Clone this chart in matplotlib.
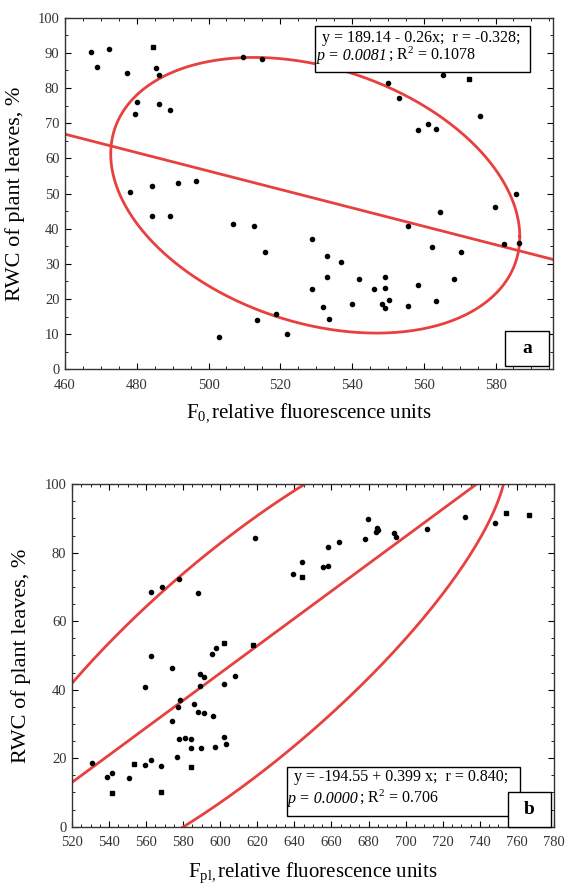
import numpy as np
import matplotlib
matplotlib.use("Agg")
import matplotlib.pyplot as plt
from matplotlib.patches import Rectangle
from matplotlib.ticker import MultipleLocator

plt.rcParams["font.family"] = ["Liberation Serif", "DejaVu Serif"]
plt.rcParams["mathtext.fontset"] = "custom"
plt.rcParams["mathtext.rm"] = "Liberation Serif"
plt.rcParams["mathtext.it"] = "Liberation Serif:italic"
plt.rcParams["mathtext.bf"] = "Liberation Serif:bold"

# panel a: F0 vs RWC
f0_x = [467.2, 469.0, 472.2, 477.2, 485.3, 486.3, 480.2, 479.4, 486.3, 489.3,
        478.1, 484.3, 491.5, 496.5, 484.3, 489.3, 506.8, 512.7, 515.8, 509.5,
        515.0, 502.8, 513.6, 518.9, 521.8, 528.9, 528.9, 531.9, 532.9, 532.9,
        533.7, 536.9, 540.1, 542.0, 546.0, 548.3, 549.2, 549.3, 549.3, 550.2,
        550.1, 553.2, 555.5, 555.5, 558.3, 558.3, 561.3, 562.2, 563.5, 563.5,
        564.4, 565.3, 568.5, 570.3, 575.7, 579.8, 582.4, 585.7, 586.5]
f0_y = [90.3, 86.1, 91.0, 84.4, 85.7, 83.7, 75.9, 72.5, 75.5, 73.8,
        50.5, 52.2, 52.9, 53.6, 43.7, 43.7, 41.4, 40.8, 33.3, 88.8,
        88.2, 9.3, 14.0, 15.6, 10.0, 37.0, 22.8, 17.8, 32.3, 26.2,
        14.3, 30.6, 18.5, 25.6, 22.8, 18.5, 17.5, 26.2, 23.2, 19.8,
        81.5, 77.3, 40.8, 18.1, 68.1, 23.9, 69.8, 34.7, 68.4, 19.5,
        44.7, 83.8, 25.6, 33.3, 72.1, 46.1, 35.6, 49.9, 36.0]
f0_sq_x = [484.4, 572.5]
f0_sq_y = [91.7, 82.7]

# panel b: Fpl vs RWC
fpl_x = [530.9, 538.7, 541.6, 550.5, 559.3, 562.4, 559.3, 562.4, 562.4, 568.8,
         568.2, 573.7, 573.7, 576.6, 577.0, 578.0, 578.3, 577.8, 581.1, 584.0,
         584.0, 585.7, 587.9, 587.9, 588.8, 588.8, 589.8, 591.2, 591.2, 595.8,
         597.6, 596.0, 597.2, 602.1, 602.1, 603.2, 608.1, 619.0, 639.0, 644.3,
         655.5, 658.1, 658.1, 664.1, 678.1, 679.5, 684.1, 684.7, 685.1, 693.5,
         694.8, 711.4, 731.8, 748.1]
fpl_y = [18.7, 14.4, 15.7, 14.2, 17.9, 19.5, 40.9, 49.9, 68.6, 70.1,
         17.6, 46.2, 30.9, 20.3, 34.8, 25.6, 37.0, 72.2, 26.0, 25.7,
         22.9, 35.7, 33.6, 68.3, 44.7, 41.1, 22.9, 43.6, 33.3, 50.5,
         52.2, 32.2, 23.2, 41.6, 26.3, 24.0, 44.0, 84.3, 73.9, 77.3,
         75.7, 76.0, 81.8, 83.0, 83.9, 89.8, 85.9, 87.1, 86.7, 85.8,
         84.7, 86.8, 90.4, 88.6]
fpl_sq_x = [541.6, 553.6, 568.2, 584.0, 602.1, 617.8, 644.3, 754.2, 766.8]
fpl_sq_y = [9.7, 18.4, 10.0, 17.3, 53.5, 52.9, 72.8, 91.5, 91.1]

# fitted lines (intercept, slope) and ellipses (cx, cy, ax, ay, r)
line_a = (187.4, -0.262)
line_b = (-194.55, 0.399)
ell_a = (529.75, 49.5, 57.0, 39.2, -0.30)
ell_b = (612.3, 49.8, 142.2, 68.3, 0.831)

eq_a = ["y = 189.14 - 0.26x;  r = -0.328;", "p = 0.0081", "; R$^2$ = 0.1078"]
eq_b = ["y = -194.55 + 0.399 x;  r = 0.840;", "p = 0.0000", "; R$^2$ = 0.706"]

RED = "#e8403f"


def ellipse(cx, cy, ax, ay, r):
    t = np.linspace(0, 2 * np.pi, 400)
    x = cx + ax * np.cos(t)
    y = cy + ay * (r * np.cos(t) + np.sqrt(1 - r ** 2) * np.sin(t))
    return x, y


def style(ax, xlim, ylim, xmaj, ymaj):
    ax.set_xlim(*xlim)
    ax.set_ylim(*ylim)
    ax.xaxis.set_major_locator(MultipleLocator(xmaj))
    ax.xaxis.set_minor_locator(MultipleLocator(5))
    ax.yaxis.set_major_locator(MultipleLocator(ymaj))
    ax.yaxis.set_minor_locator(MultipleLocator(5))
    ax.tick_params(which="both", direction="in", top=True, right=True,
                   labelsize=10.5, labelcolor="#333333")
    ax.tick_params(axis="x", which="major", length=4, pad=7)
    ax.tick_params(axis="y", which="major", length=4, pad=4)
    ax.tick_params(which="minor", length=2)
    for s in ax.spines.values():
        s.set_linewidth(1.0)
        s.set_color("#333333")


def eq_box(ax, box, x1, y1, x2, y2, eq, fs):
    # box = (x0, y0, x1, y1) in axes fraction
    ax.add_patch(Rectangle((box[0], box[1]), box[2] - box[0], box[3] - box[1],
                           transform=ax.transAxes, fc="white", ec="black",
                           lw=1, zorder=4))
    ax.text(x1, y1, eq[0], transform=ax.transAxes, fontsize=fs,
            va="baseline", ha="left", zorder=5)
    p = ax.text(x2, y2, eq[1], transform=ax.transAxes, fontsize=fs,
                style="italic", va="baseline", ha="left", zorder=5)
    ax.annotate(eq[2], xy=(1, 0), xycoords=p, fontsize=fs, va="bottom",
                ha="left", zorder=5)


def panel_box(ax, box, label):
    ax.add_patch(Rectangle((box[0], box[1]), box[2] - box[0], box[3] - box[1],
                           transform=ax.transAxes, fc="white", ec="black",
                           lw=1, zorder=6, clip_on=False))
    ax.text((box[0] + box[2]) / 2, (box[1] + box[3]) / 2, label,
            transform=ax.transAxes, fontsize=14, fontweight="bold",
            ha="center", va="center", zorder=7)


fig = plt.figure(figsize=(5.65, 8.85), dpi=100)

# ---- panel a
ax1 = fig.add_axes([0.115, 0.5827, 0.8637, 0.3973])
style(ax1, (460, 596), (0, 100), 20, 10)
xs = np.array([460, 596])
ax1.plot(xs, line_a[0] + line_a[1] * xs, color=RED, lw=2)
ex, ey = ellipse(*ell_a)
ax1.plot(ex, ey, color=RED, lw=2)
ax1.plot(f0_x, f0_y, "o", color="black", ms=3)
ax1.plot(f0_sq_x, f0_sq_y, "s", color="black", ms=3)
ax1.set_xlabel(r"F$_{\mathrm{0,}}$relative fluorescence units", fontsize=15)
ax1.xaxis.set_label_coords(0.5, -0.09)
ax1.set_ylabel("RWC of plant leaves, %", fontsize=16)
ax1.yaxis.set_label_coords(-0.082, 0.5)
eq_box(ax1, (0.513, 0.8456, 0.953, 0.977), 0.527, 0.9295, 0.5166, 0.8797,
       eq_a, 11.5)
panel_box(ax1, (0.902, 0.0094, 0.9926, 0.109), "a")

# ---- panel b
ax2 = fig.add_axes([0.1274, 0.0659, 0.853, 0.387])
style(ax2, (520, 780), (0, 100), 20, 20)
xs = np.array([520, 780])
ax2.plot(xs, line_b[0] + line_b[1] * xs, color=RED, lw=2)
ex, ey = ellipse(*ell_b)
ax2.plot(ex, ey, color=RED, lw=2)
ax2.plot(fpl_x, fpl_y, "o", color="black", ms=3)
ax2.plot(fpl_sq_x, fpl_sq_y, "s", color="black", ms=3)
ax2.set_xlabel(r"F$_{\mathrm{pl,}}$relative fluorescence units", fontsize=15)
ax2.xaxis.set_label_coords(0.5, -0.1)
ax2.set_ylabel("RWC of plant leaves, %", fontsize=16)
ax2.yaxis.set_label_coords(-0.084, 0.5)
eq_box(ax2, (0.4465, 0.0312, 0.9297, 0.1735), 0.4615, 0.1343, 0.449, 0.069,
       eq_b, 11.5)
panel_box(ax2, (0.905, 0.0, 0.9934, 0.102), "b")

fig.savefig("out.png", dpi=100)
